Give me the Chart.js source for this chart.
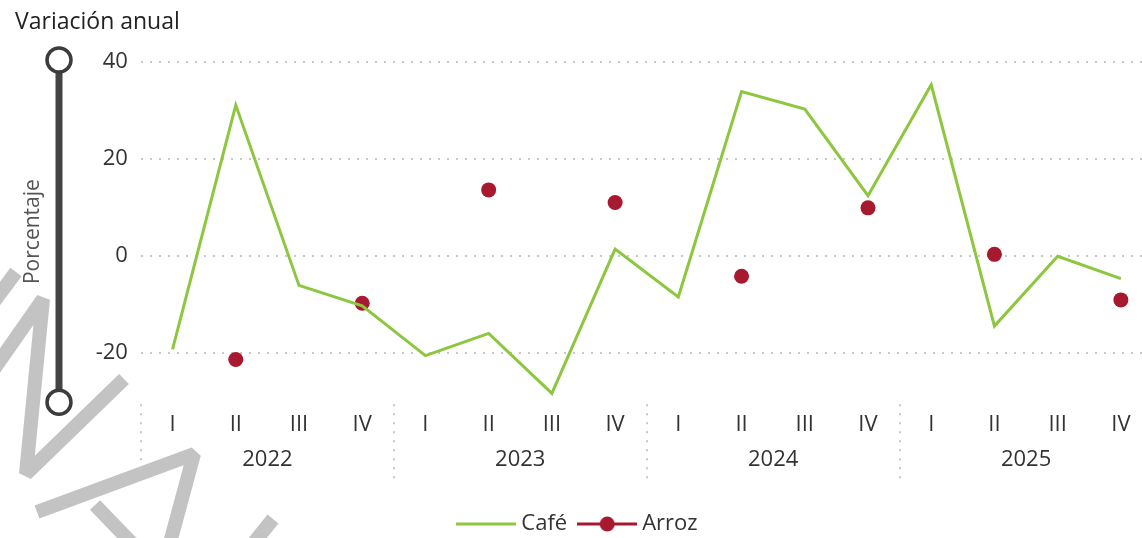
<!DOCTYPE html>
<html lang="es">
<head>
<meta charset="utf-8">
<title>Variación anual</title>
<script src="https://cdn.jsdelivr.net/npm/chart.js@4.4.1/dist/chart.umd.min.js"></script>
<style>
    html, body { margin: 0; padding: 0; background: #fff; overflow: hidden; }
    #wrap { width: 1142px; height: 538px; overflow: hidden; }
    canvas { display: block; }
</style>
</head>
<body>
<div id="wrap"><canvas id="chart" width="1160" height="545"></canvas></div>
<script>
// Data
const years = ['2022', '2023', '2024', '2025'];
const quarters = ['I', 'II', 'III', 'IV', 'I', 'II', 'III', 'IV', 'I', 'II', 'III', 'IV', 'I', 'II', 'III', 'IV'];
const cafe = [-19.3, 31.1, -6.1, -10.3, -20.6, -16.0, -28.4, 1.4, -8.5, 33.9, 30.3, 12.4, 35.3, -14.5, -0.1, -4.7];
const arroz = [null, -21.4, null, -9.8, null, 13.6, null, 11.0, null, -4.2, null, 9.9, null, 0.3, null, -9.1];
const yTicks = [-20, 0, 20, 40];

const GREEN = '#8dc63f';
const RED = '#a6192e';
const TEXT = '#333333';
const GRID = '#c8c8c8';

Chart.defaults.font.family = "'Open Sans', 'Noto Sans', sans-serif";
Chart.defaults.color = TEXT;

/**
 * Legend symbol: a line, with an optional dot in the middle
 */
function legendIcon(color, withDot) {
    const c = document.createElement('canvas');
    c.width = 60;
    c.height = 22;
    const g = c.getContext('2d');
    g.strokeStyle = color;
    g.lineWidth = 3;
    g.beginPath();
    g.moveTo(0, 11);
    g.lineTo(60, 11);
    g.stroke();
    if (withDot) {
        g.fillStyle = color;
        g.beginPath();
        g.arc(30, 11, 7.5, 0, Math.PI * 2);
        g.fill();
    }
    return c;
}
const icons = [legendIcon(GREEN, false), legendIcon(RED, true)];

// Grey watermark strokes in the lower left corner
const watermark = {
    id: 'watermark',
    beforeDraw(chart) {
        const ctx = chart.ctx;
        const paths = [
            [[-10, 307], [16, 272]],
            [[-8, 372], [43, 299], [26, 474], [124, 379]],
            [[37, 512], [194, 454], [160, 580]],
            [[95, 505], [150, 562]],
            [[273, 519], [240, 560]]
        ];
        ctx.save();
        ctx.strokeStyle = '#c3c3c3';
        ctx.lineWidth = 14;
        ctx.lineJoin = 'bevel';
        paths.forEach(p => {
            ctx.beginPath();
            ctx.moveTo(p[0][0], p[0][1]);
            for (let i = 1; i < p.length; i++) ctx.lineTo(p[i][0], p[i][1]);
            ctx.stroke();
        });
        ctx.restore();
    }
};

// Dotted separators between the years
const yearSeparators = {
    id: 'yearSeparators',
    afterDraw(chart) {
        const {ctx, chartArea, scales} = chart;
        const x = scales.x;
        const step = x.getPixelForValue(1) - x.getPixelForValue(0);
        ctx.save();
        ctx.strokeStyle = GRID;
        ctx.lineWidth = 2;
        ctx.setLineDash([2, 7]);
        for (let i = 0; i < quarters.length; i += 4) {
            const px = Math.round(x.getPixelForValue(i) - step / 2);
            ctx.beginPath();
            ctx.moveTo(px, chartArea.bottom + 3);
            ctx.lineTo(px, scales.x2.bottom + 9);
            ctx.stroke();
        }
        ctx.restore();
    }
};

// Range slider drawn beside the value axis
const slider = {
    id: 'slider',
    afterDraw(chart) {
        const {ctx, chartArea} = chart;
        const cx = 59;
        const top = chartArea.top - 2;
        const bottom = chartArea.bottom + 1;
        ctx.save();
        ctx.fillStyle = '#444444';
        ctx.fillRect(cx - 3.5, top, 7, bottom - top);
        [top, bottom].forEach(cy => {
            ctx.beginPath();
            ctx.arc(cx, cy, 12, 0, Math.PI * 2);
            ctx.fillStyle = '#ffffff';
            ctx.fill();
            ctx.lineWidth = 3.5;
            ctx.strokeStyle = '#3c3c3c';
            ctx.stroke();
        });
        ctx.restore();
    }
};

// The legend is centred on the whole canvas, not on the padded box
const legendNudge = {
    id: 'legendNudge',
    afterLayout(chart) {
        const pad = chart.options.layout.padding.left;
        chart.legend.left -= pad / 2;
        chart.legend.right -= pad / 2;
    }
};

const ctx = document.getElementById('chart').getContext('2d');
window.variacionChart = new Chart(ctx, {
    type: 'line',
    data: {
        labels: quarters,
        datasets: [{
            label: 'Café',
            data: cafe,
            borderColor: GREEN,
            backgroundColor: GREEN,
            borderWidth: 3,
            pointRadius: 0,
            tension: 0
        }, {
            label: 'Arroz',
            data: arroz,
            borderColor: RED,
            backgroundColor: RED,
            borderWidth: 3,
            pointRadius: 7.5,
            pointBorderWidth: 0,
            spanGaps: false
        }]
    },
    options: {
        responsive: false,
        animation: false,
        layout: {
            padding: { left: 15, right: 0, top: 0, bottom: 0 }
        },
        scales: {
            x: {
                type: 'category',
                position: 'bottom',
                offset: true,
                weight: 0,
                grid: { display: false },
                border: { display: false },
                ticks: {
                    font: { size: 22 },
                    color: TEXT,
                    padding: 2.5,
                    autoSkip: false,
                    maxRotation: 0
                }
            },
            x2: {
                type: 'category',
                position: 'bottom',
                labels: years,
                offset: true,
                display: true,
                weight: 1,
                grid: { display: false },
                border: { display: false },
                ticks: {
                    font: { size: 22 },
                    color: TEXT,
                    padding: -2.5,
                    maxRotation: 0
                }
            },
            y: {
                min: -30,
                max: 40,
                afterBuildTicks: scale => {
                    scale.ticks = yTicks.map(v => ({ value: v }));
                },
                grid: {
                    color: GRID,
                    lineWidth: 2,
                    drawTicks: false
                },
                border: { display: false, dash: [2, 7] },
                ticks: {
                    font: { size: 22 },
                    color: TEXT,
                    padding: 13
                },
                title: {
                    display: true,
                    text: 'Porcentaje',
                    color: '#555555',
                    font: { size: 21 },
                    padding: { top: 5.4, bottom: 37.1 }
                }
            }
        },
        plugins: {
            title: {
                display: true,
                text: 'Variación anual',
                align: 'start',
                color: '#222222',
                font: { size: 23, weight: 'normal' },
                padding: { top: 9, bottom: 25.4 }
            },
            legend: {
                position: 'bottom',
                title: {
                    display: true,
                    text: '',
                    font: { size: 10 },
                    padding: { top: 15, bottom: 0 }
                },
                labels: {
                    usePointStyle: true,
                    pointStyleWidth: 48,
                    padding: 16,
                    color: TEXT,
                    font: { size: 22 },
                    generateLabels(chart) {
                        const items = Chart.defaults.plugins.legend.labels.generateLabels(chart);
                        items.forEach((item, i) => { item.pointStyle = icons[i]; });
                        return items;
                    }
                }
            },
            tooltip: { enabled: false }
        }
    },
    plugins: [watermark, yearSeparators, slider, legendNudge]
});
</script>
</body>
</html>
